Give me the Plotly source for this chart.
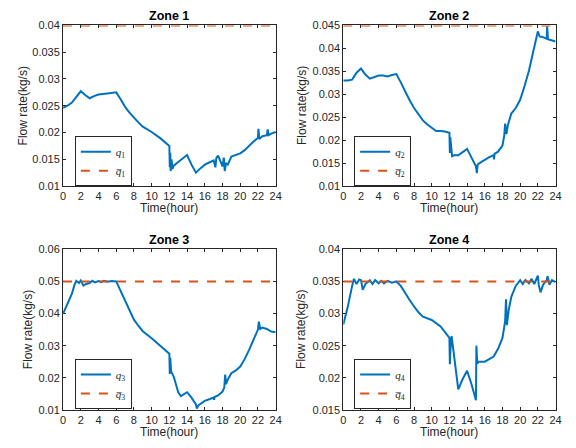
import plotly.graph_objects as go

# ---- data -------------------------------------------------------------
zone_titles = ["Zone 1", "Zone 2", "Zone 3", "Zone 4"]

t1 = [0, 0.5, 1, 1.5, 2, 2.5, 3, 3.5, 4, 5, 6, 6.5, 7, 7.5, 8, 8.5, 9, 10, 11, 12,
      12.05, 12.1, 12.15, 12.25, 12.35, 12.5, 13, 13.5, 14, 14.5, 15, 15.5, 16, 16.5,
      17, 17.2, 17.3, 17.5, 18, 18.15, 18.25, 18.4, 18.6, 19, 19.5, 20, 20.5, 21, 21.5,
      22, 22.05, 22.15, 22.5, 23, 23.1, 23.2, 23.5, 24]
q1 = [0.0246, 0.0250, 0.0256, 0.0266, 0.0277, 0.0270, 0.0264, 0.0268, 0.0271, 0.0273,
      0.0275, 0.0262, 0.0248, 0.0237, 0.0227, 0.0219, 0.0211, 0.0201, 0.0189, 0.0175,
      0.0135, 0.0162, 0.0128, 0.0150, 0.0132, 0.0138, 0.0145, 0.0152, 0.0158, 0.0140,
      0.0125, 0.0133, 0.0140, 0.0144, 0.0148, 0.0135, 0.0152, 0.0157, 0.0137, 0.0153,
      0.0128, 0.0143, 0.0140, 0.0155, 0.0158, 0.0161, 0.0167, 0.0176, 0.0183, 0.0190,
      0.0207, 0.0188, 0.0193, 0.0195, 0.0206, 0.0195, 0.0198, 0.0201]

t2 = [0, 0.5, 1, 1.5, 2, 2.5, 3, 3.5, 4, 4.5, 5, 5.5, 6, 6.5, 7, 7.5, 8, 8.5, 9, 9.5,
      10, 10.5, 11, 11.5, 12, 12.05, 12.1, 12.2, 12.3, 12.5, 13, 13.5, 14, 14.5, 15,
      15.1, 15.2, 15.5, 16, 16.5, 17, 17.05, 17.1, 17.5, 18, 18.2, 18.3, 18.45, 18.6,
      19, 19.5, 20, 20.5, 21, 21.5, 22, 22.2, 22.5, 23, 23.05, 23.15, 23.5, 24]
q2 = [0.0330, 0.0330, 0.0332, 0.0347, 0.0356, 0.0343, 0.0334, 0.0338, 0.0341, 0.0341,
      0.0339, 0.0342, 0.0344, 0.0326, 0.0305, 0.0287, 0.0270, 0.0255, 0.0243, 0.0234,
      0.0226, 0.0220, 0.0220, 0.0219, 0.0216, 0.0172, 0.0206, 0.0185, 0.0165, 0.0167,
      0.0167, 0.0174, 0.0181, 0.0162, 0.0143, 0.0128, 0.0147, 0.0151, 0.0157, 0.0163,
      0.0167, 0.0158, 0.0170, 0.0175, 0.0188, 0.0210, 0.0236, 0.0213, 0.0232, 0.0258,
      0.0270, 0.0288, 0.0318, 0.0352, 0.0395, 0.0437, 0.0426, 0.0425, 0.0421, 0.0448,
      0.0420, 0.0418, 0.0415]

t3 = [0, 0.5, 1, 1.3, 1.5, 1.8, 2, 2.3, 2.6, 3, 3.3, 3.6, 4, 4.3, 4.6, 5, 5.5, 6, 6.5,
      7, 7.5, 8, 8.5, 9, 10, 11, 12, 12.05, 12.1, 12.2, 12.5, 13, 13.3, 14, 14.5, 15,
      15.1, 15.3, 16, 16.5, 17, 17.05, 17.1, 17.5, 18, 18.2, 18.3, 18.4, 18.6, 19, 19.5,
      20, 20.5, 21, 21.5, 22, 22.1, 22.25, 22.5, 23, 23.5, 24]
q3 = [0.0399, 0.0430, 0.0462, 0.0490, 0.0502, 0.0495, 0.0503, 0.0487, 0.0492, 0.0495,
      0.0502, 0.0497, 0.0501, 0.0498, 0.0502, 0.0499, 0.0501, 0.0500, 0.0470, 0.0441,
      0.0410, 0.0381, 0.0362, 0.0345, 0.0323, 0.0300, 0.0275, 0.0212, 0.0262, 0.0220,
      0.0203, 0.0155, 0.0143, 0.0155, 0.0138, 0.0117, 0.0104, 0.0115, 0.0128, 0.0133,
      0.0138, 0.0131, 0.0140, 0.0145, 0.0157, 0.0170, 0.0210, 0.0180, 0.0195, 0.0214,
      0.0223, 0.0235, 0.0258, 0.0287, 0.0320, 0.0350, 0.0375, 0.0352, 0.0356, 0.0352,
      0.0344, 0.0342]

t4 = [0, 0.5, 1, 1.2, 1.5, 1.8, 2, 2.2, 2.5, 2.8, 3, 3.3, 3.6, 4, 4.3, 4.6, 5, 5.5, 6,
      6.5, 7, 7.5, 8, 8.5, 9, 9.5, 10, 11, 12, 12.05, 12.1, 12.25, 12.5, 13, 13.5, 14,
      14.5, 15, 15.05, 15.15, 15.3, 16, 16.5, 17, 17.5, 18, 18.3, 18.4, 18.5, 18.7, 19,
      19.5, 20, 20.3, 20.6, 21, 21.3, 21.6, 22, 22.1, 22.3, 22.6, 23, 23.1, 23.3, 23.6, 24]
q4 = [0.0283, 0.0310, 0.0343, 0.0354, 0.0346, 0.0353, 0.0352, 0.0337, 0.0346, 0.0349,
      0.0352, 0.0346, 0.0352, 0.0347, 0.0351, 0.0347, 0.0351, 0.0348, 0.0350, 0.0343,
      0.0331, 0.0321, 0.0311, 0.0302, 0.0295, 0.0293, 0.0290, 0.0280, 0.0262, 0.0221,
      0.0240, 0.0265, 0.0235, 0.0182, 0.0198, 0.0211, 0.0190, 0.0165, 0.0250, 0.0222,
      0.0225, 0.0225, 0.0229, 0.0233, 0.0245, 0.0262, 0.0288, 0.0322, 0.0282, 0.0305,
      0.0326, 0.0343, 0.0352, 0.0346, 0.0352, 0.0347, 0.0354, 0.0346, 0.0359, 0.0345,
      0.0333, 0.0345, 0.0352, 0.0358, 0.0345, 0.0352, 0.0349]

# upper flow-rate limits per zone
q_max = [0.04, 0.045, 0.05, 0.035]

x_ticks = list(range(0, 25, 2))
y_tick_vals = [
    [0.01, 0.015, 0.02, 0.025, 0.03, 0.035, 0.04],
    [0.01, 0.015, 0.02, 0.025, 0.03, 0.035, 0.04, 0.045],
    [0.01, 0.02, 0.03, 0.04, 0.05, 0.06],
    [0.015, 0.02, 0.025, 0.03, 0.035, 0.04],
]
y_tick_text = [
    ["0.01", "0.015", "0.02", "0.025", "0.03", "0.035", "0.04"],
    ["0.01", "0.015", "0.02", "0.025", "0.03", "0.035", "0.04", "0.045"],
    ["0.01", "0.02", "0.03", "0.04", "0.05", "0.06"],
    ["0.015", "0.02", "0.025", "0.03", "0.035", "0.04"],
]
y_ranges = [[0.01, 0.04], [0.01, 0.045], [0.01, 0.06], [0.015, 0.04]]

times = [t1, t2, t3, t4]
flows = [q1, q2, q3, q4]

# ---- layout geometry (pixels in a 576x448 canvas) -----------------------
W, H = 576, 448
x_px = [(61, 277), (345.7, 561.3), (61, 277), (345.7, 561.3)]
y_px = [(20, 185), (20, 185), (250, 415), (250, 415)]
legend_px = [(73, 159.5), (356.7, 159.5), (73, 388.5), (356.7, 388.5)]
ylabel_x = [20, 303, 25, 302]

BLUE = "#0072BD"
ORANGE = "#D95319"
AXIS = "#262626"
SANS = "Liberation Sans, Arial, sans-serif"

fig = go.Figure()
layout = dict(
    width=W, height=H,
    margin=dict(l=0, r=0, t=0, b=0),
    paper_bgcolor="white", plot_bgcolor="white",
    font=dict(family=SANS, size=11, color=AXIS),
    annotations=[],
)

for i in range(4):
    n = "" if i == 0 else str(i + 1)
    xa, ya = "x" + n, "y" + n
    leg = "legend" + n
    k = i + 1

    fig.add_trace(go.Scatter(
        x=times[i], y=flows[i], mode="lines",
        line=dict(color=BLUE, width=2),
        name=f"<i>q</i><sub>{k}</sub>",
        xaxis=xa, yaxis=ya, legend=leg,
    ))
    fig.add_trace(go.Scatter(
        x=[0, 24], y=[q_max[i], q_max[i]], mode="lines",
        line=dict(color=ORANGE, width=2, dash="9px,9px"),
        name=f"<i>q\u0305</i><sub>{k}</sub>",
        xaxis=xa, yaxis=ya, legend=leg, cliponaxis=False,
    ))

    x0, x1 = x_px[i]
    ytop, ybot = y_px[i]
    common = dict(
        showline=True, mirror="ticks", linecolor=AXIS, linewidth=1,
        ticks="inside", ticklen=3, tickcolor=AXIS, tickwidth=1,
        showgrid=False, zeroline=False, layer="below traces",
        tickfont=dict(family=SANS, size=11, color=AXIS),
    )
    layout["xaxis" + n] = dict(
        common, domain=[x0 / W, x1 / W], range=[0, 24],
        tickvals=x_ticks, anchor=ya,
    )
    layout["yaxis" + n] = dict(
        common, domain=[1 - ybot / H, 1 - ytop / H], range=y_ranges[i],
        tickvals=y_tick_vals[i], ticktext=y_tick_text[i], anchor=xa,
    )

    lx, ly = legend_px[i]
    layout[leg] = dict(
        x=lx / W, y=1 - ly / H, xanchor="left", yanchor="middle",
        bgcolor="white", bordercolor=AXIS, borderwidth=1,
        font=dict(family="Liberation Serif, Times New Roman, serif", size=11, color=AXIS),
        tracegroupgap=0,
    )

    xc = (x0 + x1) / 2
    layout["annotations"] += [
        dict(text=f"<b>{zone_titles[i]}</b>", x=xc / W, y=1 - (ytop - 10) / H,
             xref="paper", yref="paper", showarrow=False,
             font=dict(family=SANS, size=12.5, color="black"),
             xanchor="center", yanchor="middle"),
        dict(text="Time(hour)", x=xc / W, y=1 - (ybot + 23) / H,
             xref="paper", yref="paper", showarrow=False,
             font=dict(family=SANS, size=12, color=AXIS),
             xanchor="center", yanchor="middle"),
        dict(text="Flow rate(kg/s)", x=ylabel_x[i] / W, y=1 - (ytop + ybot) / 2 / H,
             xref="paper", yref="paper", showarrow=False, textangle=-90,
             font=dict(family=SANS, size=12, color=AXIS),
             xanchor="center", yanchor="middle"),
    ]

fig.update_layout(**layout)
fig.write_html("out.html")
